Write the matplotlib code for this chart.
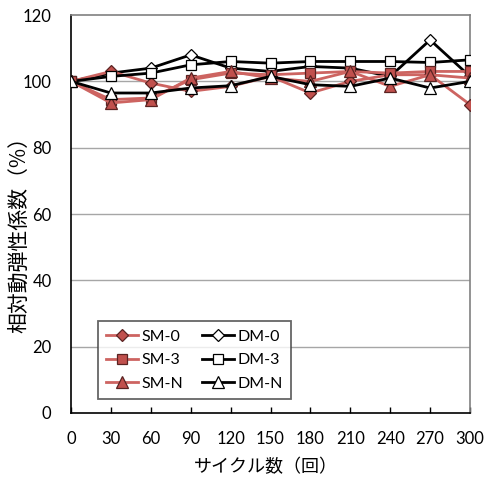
import matplotlib.pyplot as plt

plt.rcParams['font.family'] = ['Lato', 'Noto Sans CJK JP', 'DejaVu Sans']

cycles = [0, 30, 60, 90, 120, 150, 180, 210, 240, 270, 300]

sm_0 = [100, 103, 99.5, 97, 98.5, 101.5, 96.5, 100, 102, 102, 93]
sm_3 = [100, 94.5, 95, 100.5, 102.5, 102, 102.5, 103, 102.5, 103, 103]
sm_n = [100, 93.5, 94.5, 101, 103, 101, 100, 103, 98.5, 102, 101]
dm_0 = [100, 102.5, 104, 108, 104, 103, 104.5, 104, 101.5, 112.5, 101.5]
dm_3 = [100, 101.5, 102.5, 105, 106, 105.5, 106, 106, 106, 105.7, 106.5]
dm_n = [100, 96.5, 96.5, 98, 98.7, 101.5, 99, 98.5, 101, 98, 100]

x_ticks = [0, 30, 60, 90, 120, 150, 180, 210, 240, 270, 300]
y_ticks = [0, 20, 40, 60, 80, 100, 120]

red_line = '#CD6461'
red_face = '#C0504D'
red_edge = '#5a2322'

fig = plt.figure(figsize=(4.84, 4.8), dpi=100)
ax = fig.add_axes([0.1467, 0.1396, 0.8244, 0.829])

for v in [20, 40, 60, 80, 100]:
    ax.axhline(v, color='#a6a6a6', linewidth=1.0, zorder=0)

lw = 2.0
l_dm0, = ax.plot(cycles, dm_0, '-D', color='black', lw=lw, ms=6.5,
                 mfc='white', mec='black', mew=0.9, label='DM-0', zorder=2)
l_sm0, = ax.plot(cycles, sm_0, '-D', color=red_line, lw=lw, ms=6.5,
                 mfc=red_face, mec=red_edge, mew=0.9, label='SM-0', zorder=3)
l_dm3, = ax.plot(cycles, dm_3, '-s', color='black', lw=lw, ms=7.5,
                 mfc='white', mec='black', mew=0.9, label='DM-3', zorder=3)
l_sm3, = ax.plot(cycles, sm_3, '-s', color=red_line, lw=lw, ms=7.5,
                 mfc=red_face, mec=red_edge, mew=0.9, label='SM-3', zorder=3)
l_smn, = ax.plot(cycles, sm_n, '-^', color=red_line, lw=lw, ms=8,
                 mfc=red_face, mec=red_edge, mew=0.9, label='SM-N', zorder=4)
l_dmn, = ax.plot(cycles, dm_n, '-^', color='black', lw=lw, ms=8,
                 mfc='white', mec='black', mew=0.9, label='DM-N', zorder=5)

ax.set_xlim(0, 300)
ax.set_ylim(0, 120)
ax.set_xticks(x_ticks)
ax.set_yticks(y_ticks)
ax.tick_params(axis='both', direction='in', length=4, width=1, labelsize=12)
ax.tick_params(axis='x', pad=13)
ax.tick_params(axis='y', pad=14, length=0)

for side in ['left', 'bottom']:
    ax.spines[side].set_color('black')
    ax.spines[side].set_linewidth(1.2)
for side in ['top', 'right']:
    ax.spines[side].set_color('#808080')
    ax.spines[side].set_linewidth(1.2)

ax.set_xlabel('サイクル数（回）', fontsize=13, family=['Noto Sans CJK JP'])
ax.set_ylabel('相対動弾性係数（%）', fontsize=15, family=['Noto Sans CJK JP'])
ax.xaxis.set_label_coords(0.489, -0.113)
ax.yaxis.set_label_coords(-0.103, 0.46)

leg = ax.legend(handles=[l_sm0, l_sm3, l_smn, l_dm0, l_dm3, l_dmn], ncol=2,
                loc='lower left', bbox_to_anchor=(0.068, 0.035), fontsize=11.5,
                frameon=True, fancybox=False, borderpad=0.5, handlelength=2.0,
                handletextpad=0.2, columnspacing=1.2, labelspacing=0.6,
                borderaxespad=0)
leg.get_frame().set_edgecolor('#404040')
leg.get_frame().set_linewidth(1.3)

fig.savefig('out.png', dpi=100)
